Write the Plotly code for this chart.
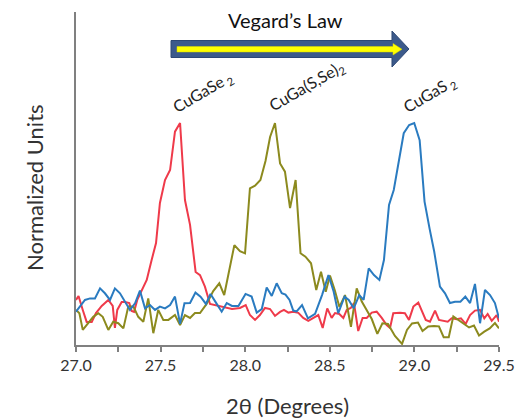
import plotly.graph_objects as go

# ---- data ----
cugase2_x = [27.000, 27.015, 27.040, 27.063, 27.093, 27.118, 27.152, 27.191, 27.217, 27.230, 27.244, 27.270,
             27.290, 27.315, 27.329, 27.343, 27.362, 27.388, 27.418, 27.447, 27.473, 27.496, 27.526, 27.556,
             27.585, 27.615, 27.644, 27.674, 27.707, 27.733, 27.762, 27.792, 27.839, 27.881, 27.922, 27.969,
             28.003, 28.028, 28.058, 28.087, 28.117, 28.147, 28.176, 28.206, 28.229, 28.255, 28.284, 28.314,
             28.343, 28.373, 28.402, 28.432, 28.458, 28.485, 28.511, 28.531, 28.556, 28.580, 28.600, 28.624,
             28.643, 28.668, 28.694, 28.718, 28.748, 28.777, 28.807, 28.836, 28.856, 28.875, 28.915, 28.944,
             28.968, 28.994, 29.023, 29.043, 29.067, 29.092, 29.122, 29.145, 29.171, 29.197, 29.220, 29.250,
             29.275, 29.303, 29.329, 29.358, 29.388, 29.413, 29.433, 29.457, 29.486, 29.500]
cugase2_y = [0.203, 0.221, 0.158, 0.104, 0.104, 0.144, 0.176, 0.203, 0.176, 0.077, 0.158, 0.194,
             0.194, 0.189, 0.153, 0.149, 0.203, 0.248, 0.293, 0.383, 0.459, 0.640, 0.743, 0.788,
             0.961, 1.000, 0.653, 0.541, 0.329, 0.315, 0.263, 0.185, 0.176, 0.167, 0.162, 0.167,
             0.180, 0.135, 0.113, 0.135, 0.167, 0.162, 0.131, 0.149, 0.158, 0.146, 0.150, 0.145,
             0.122, 0.109, 0.122, 0.135, 0.077, 0.165, 0.122, 0.144, 0.140, 0.122, 0.158, 0.167,
             0.189, 0.063, 0.122, 0.122, 0.146, 0.150, 0.122, 0.090, 0.077, 0.143, 0.145, 0.143,
             0.113, 0.173, 0.191, 0.158, 0.113, 0.105, 0.155, 0.113, 0.109, 0.105, 0.120, 0.116,
             0.120, 0.095, 0.135, 0.155, 0.158, 0.120, 0.140, 0.109, 0.135, 0.105]

mixed_x = [27.000, 27.020, 27.040, 27.073, 27.102, 27.132, 27.158, 27.191, 27.220, 27.250, 27.280, 27.309,
           27.339, 27.368, 27.398, 27.427, 27.457, 27.486, 27.516, 27.546, 27.585, 27.615, 27.644, 27.674,
           27.703, 27.733, 27.772, 27.811, 27.847, 27.876, 27.907, 27.936, 27.969, 27.999, 28.028, 28.058,
           28.090, 28.120, 28.147, 28.176, 28.206, 28.235, 28.265, 28.298, 28.327, 28.356, 28.389, 28.420,
           28.448, 28.476, 28.501, 28.529, 28.557, 28.590, 28.625, 28.659, 28.689, 28.718, 28.748, 28.781,
           28.811, 28.844, 28.885, 28.927, 28.956, 28.986, 29.021, 29.048, 29.082, 29.116, 29.145, 29.173,
           29.203, 29.230, 29.262, 29.293, 29.323, 29.352, 29.382, 29.413, 29.445, 29.476, 29.500]
mixed_y = [0.158, 0.143, 0.068, 0.098, 0.127, 0.143, 0.127, 0.068, 0.105, 0.098, 0.075, 0.173,
           0.173, 0.127, 0.105, 0.210, 0.053, 0.158, 0.113, 0.113, 0.135, 0.090, 0.135, 0.122,
           0.144, 0.144, 0.185, 0.243, 0.278, 0.225, 0.333, 0.450, 0.423, 0.413, 0.706, 0.718,
           0.743, 0.829, 0.937, 1.000, 0.818, 0.781, 0.617, 0.743, 0.413, 0.398, 0.368, 0.248,
           0.330, 0.240, 0.313, 0.248, 0.171, 0.225, 0.082, 0.255, 0.196, 0.158, 0.117, 0.050,
           0.098, 0.095, 0.041, 0.005, 0.068, 0.097, 0.101, 0.063, 0.083, 0.086, 0.084, 0.035,
           0.035, 0.129, 0.113, 0.095, 0.079, 0.088, 0.043, 0.060, 0.075, 0.099, 0.075]

cugas2_x = [27.000, 27.024, 27.053, 27.083, 27.112, 27.142, 27.171, 27.201, 27.230, 27.260, 27.290, 27.319,
            27.349, 27.378, 27.408, 27.437, 27.467, 27.496, 27.526, 27.556, 27.585, 27.615, 27.641, 27.674,
            27.706, 27.736, 27.768, 27.795, 27.827, 27.861, 27.891, 27.922, 27.960, 28.002, 28.038, 28.068,
            28.098, 28.127, 28.157, 28.186, 28.216, 28.238, 28.262, 28.284, 28.304, 28.336, 28.371, 28.413,
            28.454, 28.492, 28.523, 28.550, 28.587, 28.612, 28.641, 28.674, 28.700, 28.730, 28.761, 28.793,
            28.820, 28.850, 28.878, 28.905, 28.937, 28.969, 28.999, 29.031, 29.060, 29.090, 29.117, 29.151,
            29.181, 29.210, 29.240, 29.272, 29.301, 29.329, 29.358, 29.388, 29.417, 29.447, 29.476, 29.500]
cugas2_y = [0.150, 0.173, 0.203, 0.210, 0.210, 0.255, 0.233, 0.203, 0.255, 0.233, 0.195, 0.158,
            0.188, 0.245, 0.165, 0.180, 0.158, 0.173, 0.165, 0.180, 0.218, 0.095, 0.188, 0.189,
            0.236, 0.218, 0.185, 0.230, 0.191, 0.150, 0.189, 0.176, 0.176, 0.230, 0.218, 0.146,
            0.162, 0.259, 0.221, 0.278, 0.233, 0.227, 0.203, 0.155, 0.151, 0.180, 0.120, 0.140,
            0.225, 0.315, 0.240, 0.143, 0.218, 0.203, 0.165, 0.225, 0.203, 0.345, 0.315, 0.293,
            0.383, 0.631, 0.698, 0.815, 0.954, 0.991, 1.000, 0.923, 0.646, 0.523, 0.421, 0.263,
            0.233, 0.189, 0.195, 0.195, 0.218, 0.189, 0.275, 0.098, 0.248, 0.225, 0.189, 0.120]

x_ticks = [27.0, 27.5, 28.0, 28.5, 29.0, 29.5]
peak_labels = ["CuGaSe<sub> 2</sub>", "CuGa(S,Se)<sub>2</sub>", "CuGaS<sub> 2</sub>"]

# ---- layout geometry (page pixels; the page body has an 8px margin) ----
OFF = 8
W, H = 526 - OFF, 418 - OFF
PLOT_L, PLOT_R, PLOT_T, PLOT_B = 76, 499, 12, 345
L, T = PLOT_L - OFF, PLOT_T - OFF
R, B = 526 - PLOT_R, 418 - PLOT_B
PW, PH = PLOT_R - PLOT_L, PLOT_B - PLOT_T


def px(x):
    return (x - PLOT_L) / PW


def py(y):
    return (PLOT_B - y) / PH


FONT = "Lato, Open Sans, sans-serif"

fig = go.Figure()
for xs, ys, col in [(cugase2_x, cugase2_y, "#EF3A4A"),
                    (mixed_x, mixed_y, "#8C8A1E"),
                    (cugas2_x, cugas2_y, "#2A7BC0")]:
    fig.add_trace(go.Scatter(x=xs, y=ys, mode="lines",
                             line=dict(color=col, width=2), showlegend=False))


def path(points):
    return "M " + " L ".join(f"{px(a):.5f},{py(b):.5f}" for a, b in points) + " Z"


outer = [(171, 40.5), (392, 40.5), (392, 31), (409, 49), (392, 67), (392, 57.5), (171, 57.5)]
inner = [(177, 46.5), (393, 46.5), (393, 43.5), (402, 49.3), (393, 55), (393, 52), (177, 52)]
fig.add_shape(type="path", xref="paper", yref="paper", path=path(outer),
              fillcolor="#3C5A8B", line=dict(color="#2E4874", width=1))
fig.add_shape(type="path", xref="paper", yref="paper", path=path(inner),
              fillcolor="#FFFF00", line=dict(color="#D8D800", width=0.5))

base = dict(xref="paper", yref="paper", showarrow=False, xanchor="center", yanchor="middle",
            borderpad=0)
annotations = [
    dict(base, text="Vegard’s Law", x=px(285), y=py(20),
         font=dict(family=FONT, size=20, color="#111111")),
    dict(base, text="2θ (Degrees)", x=px(287), y=py(405),
         font=dict(family=FONT, size=22, color="#333333")),
    dict(base, text="Normalized Units", x=px(34), y=py(188), textangle=-90,
         font=dict(family=FONT, size=22, color="#333333")),
]
label_pos = [(202, 92), (306, 86), (429, 94)]
for t, (lx, ly) in zip(peak_labels, label_pos):
    annotations.append(dict(base, text=t, x=px(lx), y=py(ly), textangle=-30,
                            font=dict(family=FONT, size=16, color="#222222")))

fig.update_layout(
    width=W, height=H,
    margin=dict(l=L, r=R, t=T, b=B, pad=0),
    paper_bgcolor="white", plot_bgcolor="white",
    annotations=annotations,
    xaxis=dict(range=[27, 29.5], tickvals=x_ticks, tickformat=".1f",
               ticks="outside", ticklen=5, tickcolor="#808080", tickwidth=1.5,
               showline=True, linecolor="#808080", linewidth=2,
               showgrid=False, zeroline=False,
               minor=dict(dtick=0.25, ticks="outside", ticklen=5, tickcolor="#808080", tickwidth=1.5),
               tickfont=dict(family=FONT, size=16, color="#333333")),
    yaxis=dict(range=[0, 1.5], showticklabels=False, ticks="",
               showline=True, linecolor="#808080", linewidth=2,
               showgrid=False, zeroline=False),
)

fig.write_html("out.html")
